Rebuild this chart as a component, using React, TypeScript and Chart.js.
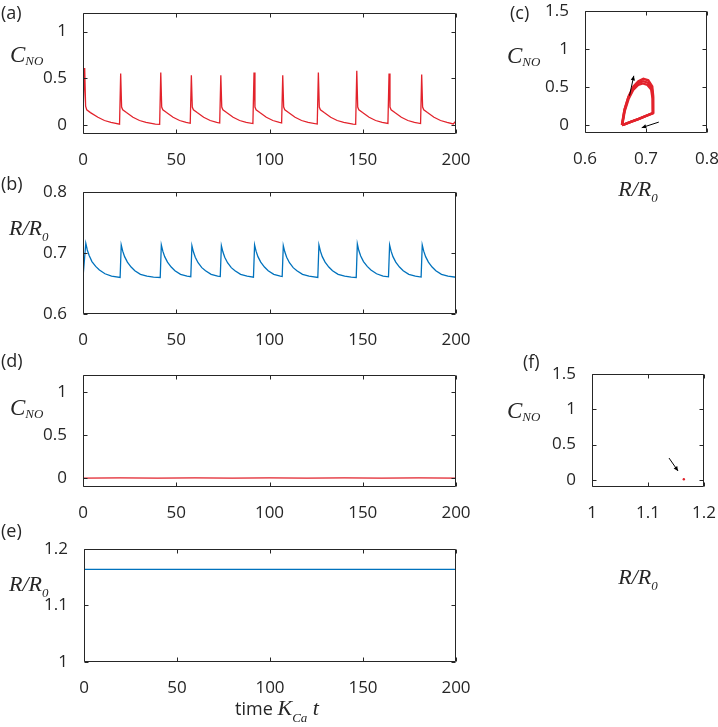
import React, { useEffect, useRef } from 'react';
import { Chart, registerables } from 'chart.js';
Chart.register(...registerables);

const RED = '#E2222B';
const BLUE = '#0072BD';
const INK = '#262626';
const W = 718;
const H = 727;
const Y_W = 50;
const X_H = 34;

// ---- tick labels ----
const timeTicks = [0, 50, 100, 150, 200];
const cnoTicks = [0, 0.5, 1];
const rTicksB = [0.6, 0.7, 0.8];
const rTicksE = [1, 1.1, 1.2];
const phaseCTicks = [0, 0.5, 1, 1.5];
const phaseRTicksC = [0.6, 0.7, 0.8];
const phaseRTicksF = [1, 1.1, 1.2];

// ---- (a) C_NO vs time ----
const timeA = [0, 0.9, 1.4, 2, 4, 8, 11.5, 15, 19.6,
  20.2, 20.7, 21.3, 23.3, 26.8, 30.3, 33.8, 38.8, 41.1,
  41.7, 42.2, 42.8, 44.8, 48.3, 51.8, 55.3, 57.5,
  58.1, 58.6, 59.2, 61.2, 64.7, 68.2, 71.7, 73.3,
  73.9, 74.4, 75, 77, 80.5, 84, 87.5, 91.1,
  91.7, 92.2, 92.8, 94.8, 98.3, 101.8, 105.3, 106.5,
  107.1, 107.6, 108.2, 110.2, 113.7, 117.2, 120.7, 125.6,
  126.2, 126.7, 127.3, 129.3, 132.8, 136.3, 139.8, 144.8, 146.2,
  146.8, 147.3, 147.9, 149.9, 153.4, 156.9, 160.4, 163.5,
  164.1, 164.6, 165.2, 167.2, 170.7, 174.2, 177.7, 181,
  181.6, 182.1, 182.7, 184.7, 188.2, 191.7, 195.2, 198.5, 200];
const cnoA = [0.12, 0.61, 0.2, 0.16, 0.13, 0.08, 0.045, 0.025, 0.006,
  0.55, 0.19, 0.16, 0.13, 0.08, 0.045, 0.025, 0.006, 0.003,
  0.56, 0.19, 0.16, 0.13, 0.08, 0.045, 0.025, 0.015,
  0.53, 0.19, 0.16, 0.13, 0.08, 0.045, 0.025, 0.018,
  0.53, 0.19, 0.16, 0.13, 0.08, 0.045, 0.025, 0.012,
  0.56, 0.19, 0.16, 0.13, 0.08, 0.045, 0.025, 0.02,
  0.53, 0.19, 0.16, 0.13, 0.08, 0.045, 0.025, 0.007,
  0.56, 0.19, 0.16, 0.13, 0.08, 0.045, 0.025, 0.006, 0.004,
  0.58, 0.19, 0.16, 0.13, 0.08, 0.045, 0.025, 0.014,
  0.55, 0.19, 0.16, 0.13, 0.08, 0.045, 0.025, 0.012,
  0.54, 0.19, 0.16, 0.13, 0.08, 0.045, 0.025, 0.008, 0.04];

// ---- (b) R/R0 vs time ----
const timeB = [0, 1.5, 2.3, 3.3, 4.8, 6.8, 8.8, 11.8, 15.3, 19.9,
  20.5, 21.3, 22.3, 23.8, 25.8, 27.8, 30.8, 34.3, 37.8, 41.4,
  42, 42.8, 43.8, 45.3, 47.3, 49.3, 52.3, 55.8, 57.8,
  58.4, 59.2, 60.2, 61.7, 63.7, 65.7, 68.7, 72.2, 73.6,
  74.2, 75, 76, 77.5, 79.5, 81.5, 84.5, 88, 91.4,
  92, 92.8, 93.8, 95.3, 97.3, 99.3, 102.3, 105.8, 106.8,
  107.4, 108.2, 109.2, 110.7, 112.7, 114.7, 117.7, 121.2, 125.9,
  126.5, 127.3, 128.3, 129.8, 131.8, 133.8, 136.8, 140.3, 143.8, 146.5,
  147.1, 147.9, 148.9, 150.4, 152.4, 154.4, 157.4, 160.9, 163.8,
  164.4, 165.2, 166.2, 167.7, 169.7, 171.7, 174.7, 178.2, 181.3,
  181.9, 182.7, 183.7, 185.2, 187.2, 189.2, 192.2, 195.7, 200];
const rB = [0.66, 0.716, 0.705, 0.696, 0.686, 0.678, 0.672, 0.666, 0.662, 0.66,
  0.713, 0.703, 0.694, 0.685, 0.677, 0.671, 0.665, 0.662, 0.6605, 0.6598,
  0.713, 0.703, 0.694, 0.685, 0.677, 0.671, 0.665, 0.662, 0.6612,
  0.712, 0.702, 0.693, 0.684, 0.676, 0.671, 0.665, 0.662, 0.6615,
  0.712, 0.702, 0.693, 0.684, 0.676, 0.671, 0.665, 0.662, 0.6603,
  0.713, 0.703, 0.694, 0.685, 0.677, 0.671, 0.665, 0.662, 0.6615,
  0.712, 0.702, 0.693, 0.684, 0.676, 0.671, 0.665, 0.662, 0.66,
  0.713, 0.703, 0.694, 0.685, 0.677, 0.671, 0.665, 0.662, 0.6605, 0.6598,
  0.715, 0.704, 0.695, 0.686, 0.678, 0.672, 0.666, 0.662, 0.661,
  0.713, 0.703, 0.694, 0.685, 0.677, 0.671, 0.665, 0.662, 0.6605,
  0.713, 0.703, 0.694, 0.685, 0.677, 0.671, 0.665, 0.662, 0.6602];

// ---- (c) phase portrait, three overlapping cycles ----
const phaseR1 = [0.6608, 0.665, 0.6715, 0.6795, 0.6876, 0.6957, 0.7037, 0.7102, 0.7118, 0.7118, 0.700, 0.688, 0.676, 0.665, 0.6608];
const phaseC1 = [0.005, 0.21, 0.38, 0.51, 0.58, 0.61, 0.59, 0.51, 0.38, 0.165, 0.125, 0.085, 0.05, 0.015, 0.005];
const phaseR2 = [0.6604, 0.6646, 0.671, 0.679, 0.687, 0.6952, 0.703, 0.7094, 0.7113, 0.7115, 0.6997, 0.6877, 0.6757, 0.6647, 0.6604];
const phaseC2 = [0.004, 0.2, 0.365, 0.49, 0.555, 0.58, 0.56, 0.49, 0.365, 0.162, 0.123, 0.083, 0.048, 0.014, 0.004];
const phaseR3 = [0.661, 0.6652, 0.6716, 0.6794, 0.6872, 0.6948, 0.7024, 0.7086, 0.7108, 0.711, 0.6993, 0.6873, 0.6753, 0.6649, 0.661];
const phaseC3 = [0.006, 0.19, 0.35, 0.47, 0.53, 0.55, 0.53, 0.47, 0.35, 0.158, 0.12, 0.081, 0.047, 0.014, 0.006];
const arrowsC = [[0.673, 0.39, 0.680, 0.65], [0.721, 0.043, 0.693, -0.03]];

// ---- (d) C_NO vs time, steady ----
const timeD = [0, 20, 40, 60, 80, 100, 120, 140, 160, 180, 200];
const cnoD = [0.004, 0.006, 0.003, 0.005, 0.004, 0.006, 0.004, 0.005, 0.003, 0.006, 0.004];

// ---- (e) R/R0 vs time, steady ----
const timeE = [0, 50, 100, 150, 200];
const rE = [1.164, 1.164, 1.164, 1.164, 1.164];

// ---- (f) fixed point ----
const fixedR = [1.164];
const fixedC = [0.01];
const arrowsF = [[1.1375, 0.31, 1.1536, 0.127]];

const serifI = (s: number) => `italic ${s}px "Liberation Serif"`;
const sans = (s: number) => `${s}px "Open Sans"`;

const cnoTitle = [{ t: 'C', f: serifI(23), dy: 0 }, { t: 'NO', f: serifI(13), dy: 3 }];
const rTitle = [{ t: 'R/R', f: serifI(22), dy: 0 }, { t: '0', f: serifI(13), dy: 6 }];
const timeTitle = [
  { t: 'time ', f: sans(18), dy: 0 },
  { t: 'K', f: serifI(22), dy: 0 },
  { t: 'Ca', f: serifI(13), dy: 7 },
  { t: ' t', f: serifI(22), dy: 0 },
];

const pts = (xs: number[], ys: number[]) => xs.map((x, i) => ({ x, y: ys[i] }));
const fmt = (v: number) => String(Math.round(v * 100) / 100);

function drawParts(ctx: CanvasRenderingContext2D, parts: any[], x: number, y: number, center: boolean) {
  let total = 0;
  parts.forEach((p) => { ctx.font = p.f; total += ctx.measureText(p.t).width; });
  let cx = center ? x - total / 2 : x;
  ctx.textAlign = 'left';
  ctx.textBaseline = 'alphabetic';
  parts.forEach((p) => {
    ctx.font = p.f;
    ctx.fillText(p.t, cx, y + (p.dy || 0));
    cx += ctx.measureText(p.t).width;
  });
}

const framePlugin = {
  id: 'frame',
  afterDraw(chart: any, _a: any, o: any) {
    const { ctx, chartArea: a, scales } = chart;
    const xs = scales.x;
    const ys = scales.y;
    ctx.save();
    ctx.strokeStyle = INK;
    ctx.fillStyle = INK;
    ctx.lineWidth = 1;
    const L = Math.round(a.left) + 0.5, R = Math.round(a.right) - 0.5;
    const T = Math.round(a.top) + 0.5, B = Math.round(a.bottom) - 0.5;
    ctx.beginPath();
    ctx.rect(L, T, R - L, B - T);
    const TL = 4;
    xs.ticks.forEach((t: any) => {
      const px = Math.round(xs.getPixelForValue(t.value)) + 0.5;
      ctx.moveTo(px, B); ctx.lineTo(px, B - TL);
      ctx.moveTo(px, T); ctx.lineTo(px, T + TL);
    });
    ys.ticks.forEach((t: any) => {
      const py = Math.round(ys.getPixelForValue(t.value)) + 0.5;
      ctx.moveTo(L, py); ctx.lineTo(L + TL, py);
      ctx.moveTo(R, py); ctx.lineTo(R - TL, py);
    });
    ctx.stroke();
    (o.arrows || []).forEach((ar: number[]) => {
      const x1 = xs.getPixelForValue(ar[0]), y1 = ys.getPixelForValue(ar[1]);
      const x2 = xs.getPixelForValue(ar[2]), y2 = ys.getPixelForValue(ar[3]);
      const ang = Math.atan2(y2 - y1, x2 - x1);
      ctx.strokeStyle = '#000';
      ctx.fillStyle = '#000';
      ctx.beginPath();
      ctx.moveTo(x1, y1); ctx.lineTo(x2, y2);
      ctx.stroke();
      const hl = 5, hw = 0.45;
      ctx.beginPath();
      ctx.moveTo(x2, y2);
      ctx.lineTo(x2 - hl * Math.cos(ang - hw), y2 - hl * Math.sin(ang - hw));
      ctx.lineTo(x2 - hl * Math.cos(ang + hw), y2 - hl * Math.sin(ang + hw));
      ctx.closePath();
      ctx.fill();
    });
    ctx.fillStyle = INK;
    if (o.label) {
      ctx.font = sans(18);
      ctx.textAlign = 'left';
      ctx.textBaseline = 'middle';
      ctx.fillText(o.label.t, o.label.x, o.label.y);
    }
    if (o.yTitle) drawParts(ctx, o.yTitle.parts, o.yTitle.x, o.yTitle.y, false);
    if (o.xTitle) drawParts(ctx, o.xTitle.parts, o.xTitle.x, o.xTitle.y, true);
    ctx.restore();
  },
};

type Spec = {
  box: { l: number; t: number; r: number; b: number };
  xr: [number, number]; yr: [number, number];
  xt: number[]; yt: number[];
  datasets: any[];
  frame: any;
  yPad?: number;
};

function makeConfig(s: Spec): any {
  return {
    type: 'scatter',
    data: { datasets: s.datasets },
    options: {
      animation: false,
      responsive: false,
      devicePixelRatio: 1,
      events: [],
      layout: { padding: { left: s.box.l - Y_W, top: s.box.t, right: W - s.box.r, bottom: H - s.box.b - X_H } },
      plugins: { legend: { display: false }, tooltip: { enabled: false }, frame: s.frame },
      scales: {
        x: {
          type: 'linear', min: s.xr[0], max: s.xr[1],
          grid: { display: false }, border: { display: false },
          ticks: { color: INK, font: { family: 'Open Sans', size: 17 }, padding: 8, maxRotation: 0, minRotation: 0, autoSkip: false, callback: (v: number) => fmt(v) },
          afterBuildTicks: (sc: any) => { sc.ticks = s.xt.map((v) => ({ value: v })); },
          afterFit: (sc: any) => { sc.height = X_H; sc.paddingLeft = 0; sc.paddingRight = 0; },
        },
        y: {
          type: 'linear', min: s.yr[0], max: s.yr[1],
          grid: { display: false }, border: { display: false },
          ticks: { color: INK, font: { family: 'Open Sans', size: 17 }, padding: s.yPad ?? 8, autoSkip: false, callback: (v: number) => fmt(v) },
          afterBuildTicks: (sc: any) => { sc.ticks = s.yt.map((v) => ({ value: v })); },
          afterFit: (sc: any) => { sc.width = Y_W; sc.paddingTop = 0; sc.paddingBottom = 0; },
        },
      },
    },
    plugins: [framePlugin],
  };
}

const lineDs = (data: any[], color: string, width: number) => ({
  data, showLine: true, borderColor: color, backgroundColor: color, borderWidth: width,
  pointRadius: 0, tension: 0, fill: false,
});

function buildSpecs(): Spec[] {
  return [
    {
      box: { l: 83, t: 13, r: 456, b: 134 }, xr: [0, 200], yr: [-0.1, 1.2], xt: timeTicks, yt: cnoTicks,
      datasets: [lineDs(pts(timeA, cnoA), RED, 1.3)],
      frame: { label: { t: '(a)', x: 1, y: 14 }, yTitle: { parts: cnoTitle, x: 10, y: 62 } },
    },
    {
      box: { l: 83, t: 192, r: 456, b: 314 }, xr: [0, 200], yr: [0.6, 0.8], xt: timeTicks, yt: rTicksB,
      datasets: [lineDs(pts(timeB, rB), BLUE, 1.3)],
      frame: { label: { t: '(b)', x: 1, y: 185 }, yTitle: { parts: rTitle, x: 9, y: 235 } },
    },
    {
      box: { l: 585, t: 11, r: 707, b: 133 }, xr: [0.6, 0.8], yr: [-0.1, 1.5], xt: phaseRTicksC, yt: phaseCTicks,
      datasets: [
        lineDs(pts(phaseR1, phaseC1), RED, 2.4),
        lineDs(pts(phaseR2, phaseC2), RED, 2.4),
        lineDs(pts(phaseR3, phaseC3), RED, 2.4),
      ],
      frame: {
        arrows: arrowsC,
        label: { t: '(c)', x: 510, y: 14 },
        yTitle: { parts: cnoTitle, x: 507, y: 63 },
        xTitle: { parts: rTitle, x: 638, y: 196 },
      },
    },
    {
      box: { l: 83, t: 375, r: 456, b: 487 }, xr: [0, 200], yr: [-0.1, 1.2], xt: timeTicks, yt: cnoTicks,
      datasets: [lineDs(pts(timeD, cnoD), RED, 1.3)],
      frame: { label: { t: '(d)', x: 1, y: 362 }, yTitle: { parts: cnoTitle, x: 10, y: 415 } },
    },
    {
      box: { l: 84, t: 549, r: 456, b: 662 }, xr: [0, 200], yr: [1, 1.2], xt: timeTicks, yt: rTicksE,
      datasets: [lineDs(pts(timeE, rE), BLUE, 1.3)],
      frame: {
        label: { t: '(e)', x: 1, y: 532 },
        yTitle: { parts: rTitle, x: 9, y: 591 },
        xTitle: { parts: timeTitle, x: 277, y: 715 },
      },
    },
    {
      box: { l: 592, t: 374, r: 704, b: 487 }, xr: [1, 1.2], yr: [-0.1, 1.5], xt: phaseRTicksF, yt: phaseCTicks,
      datasets: [{ data: pts(fixedR, fixedC), showLine: false, pointRadius: 1.2, pointBorderWidth: 0, backgroundColor: RED, borderColor: RED }],
      frame: {
        arrows: arrowsF,
        label: { t: '(f)', x: 523, y: 363 },
        yTitle: { parts: cnoTitle, x: 507, y: 418 },
        xTitle: { parts: rTitle, x: 638, y: 584 },
      },
    },
  ];
}

function Panel({ index }: { index: number }) {
  const ref = useRef<HTMLCanvasElement>(null);
  useEffect(() => {
    const spec = buildSpecs()[index];
    const chart = new Chart(ref.current as HTMLCanvasElement, makeConfig(spec));
    return () => chart.destroy();
  }, [index]);
  return (
    <canvas
      ref={ref}
      width={W}
      height={H}
      style={{ position: 'absolute', left: 0, top: 0, width: W, height: H }}
    />
  );
}

export default function App() {
  return (
    <div style={{ position: 'absolute', left: 0, top: 0, width: W, height: H, background: '#fff', overflow: 'hidden' }}>
      {[0, 1, 2, 3, 4, 5].map((i) => <Panel key={i} index={i} />)}
    </div>
  );
}
